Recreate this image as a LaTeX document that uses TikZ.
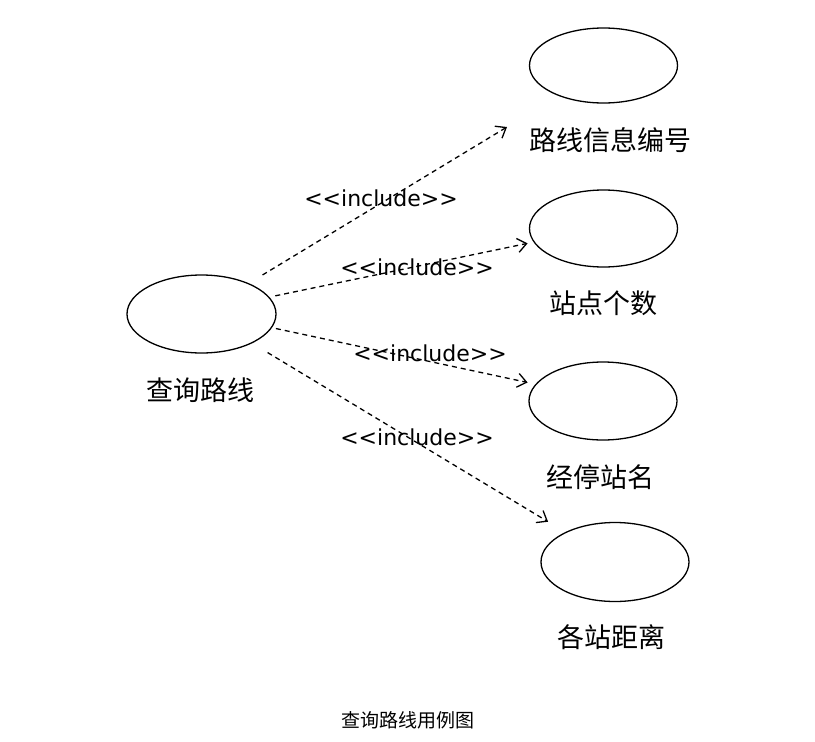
\documentclass[tikz,border=0pt]{standalone}
\usepackage{fontspec}
\newfontfamily\cjk{Noto Sans CJK SC}
\newfontfamily\incfont{DejaVu Sans}
\usetikzlibrary{shapes.geometric, arrows.meta}
\tikzset{
  uc/.style={draw, ellipse, line width=1.3pt, minimum width=148pt, minimum height=77pt, inner sep=0pt},
  lbl/.style={font=\cjk\fontsize{27}{29}\selectfont, inner sep=0pt},
  stereo/.style={font=\incfont\fontsize{22}{24}\selectfont, inner sep=0pt},
  incl/.style={line width=1.3pt, dash pattern=on 5pt off 4pt, -{Straight Barb[length=9pt, width=14pt, line width=1.3pt]}},
}

\begin{document}
\begin{tikzpicture}[x=1pt, y=-1pt]
  \useasboundingbox (0,0) rectangle (815,742);
  % use cases
  \node[uc, minimum width=149pt, minimum height=78pt] (main) at (201.5,314) {};
  \node[lbl] (lmain) at (200,390) {查询路线};
  \node[uc, minimum height=75pt] (e1) at (603.5,65.5) {};
  \node[lbl] (l1) at (610,140) {路线信息编号};
  \node[uc] (e2) at (603.5,228.5) {};
  \node[lbl] (l2) at (603,303) {站点个数};
  \node[uc, minimum height=78pt] (e3) at (603,401) {};
  \node[lbl] (l3) at (600,477) {经停站名};
  \node[uc, minimum height=79pt] (e4) at (615,562) {};
  \node[lbl] (l4) at (611,637) {各站距离};
  \coordinate (t1) at (507,127);
  % include relations
  \draw[incl, shorten <=16pt] (main.33) -- (t1);
  \draw[incl, shorten <=6pt, shorten >=6pt] (main.14) -- (e2.191);
  \draw[incl, shorten <=4pt, shorten >=8pt] (main.-11) -- (e3.166);
  \draw[incl, shorten <=18pt, shorten >=20pt] (main.-30) -- (e4.149);
  \node[stereo] (s1) at (381,198) {<{}<include>{}>};
  \node[stereo] (s2) at (417,267) {<{}<include>{}>};
  \node[stereo] (s3) at (430,353) {<{}<include>{}>};
  \node[stereo] (s4) at (417,437) {<{}<include>{}>};
  % caption
  \node[font=\cjk\fontsize{19}{21}\selectfont] (cap) at (408,720) {查询路线用例图};
\end{tikzpicture}
\end{document}
